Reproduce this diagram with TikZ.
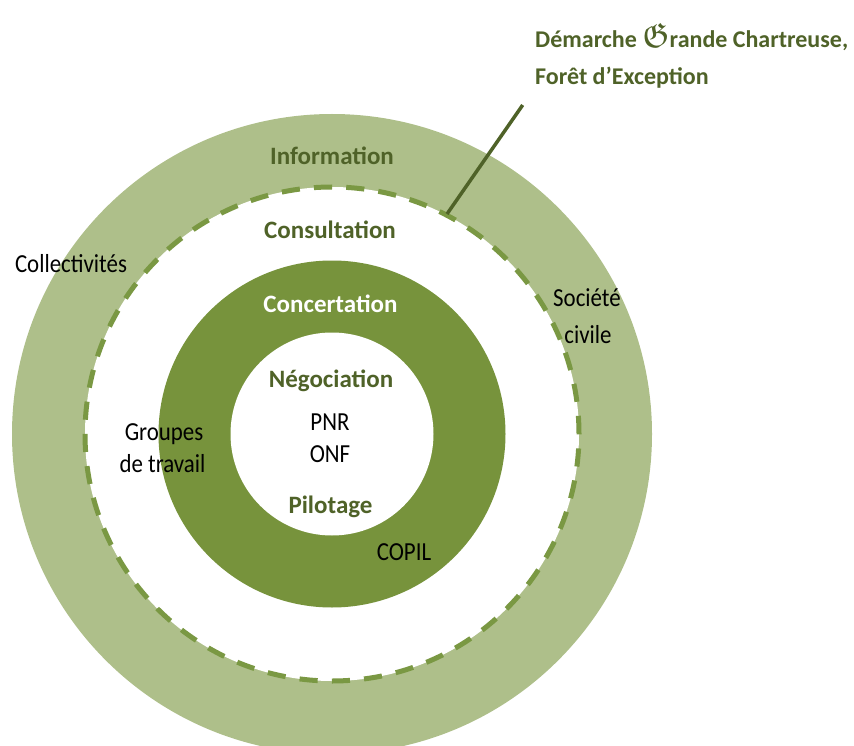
\documentclass[tikz,border=0pt]{standalone}
\usepackage{fontspec}
\usepackage{amssymb}
\usepackage{graphicx}
\setmainfont{Carlito}
\newfontfamily\thinfont[FakeStretch=0.88]{Carlito}
\definecolor{lightring}{HTML}{AEBF8A}
\definecolor{darkring}{HTML}{77933C}
\definecolor{dashgreen}{HTML}{7A9843}
\definecolor{txtgreen}{HTML}{4F6228}
\begin{document}
\begin{tikzpicture}[x=1pt,y=-1pt,
  ring/.style={circle, inner sep=0pt, outer sep=0pt, draw=none},
  lab/.style={anchor=base, inner sep=0pt, font=\fontsize{25}{30}\selectfont\bfseries, text=txtgreen},
  who/.style={anchor=base, inner sep=0pt, font=\thinfont\fontsize{26}{30}\selectfont, text=black},
  titlebox/.style={anchor=base west, inner sep=0pt, font=\fontsize{24}{30}\selectfont\bfseries, text=txtgreen},
]
\useasboundingbox (0,0) rectangle (854,746);
\clip (0,0) rectangle (854,746);
\coordinate (c) at (332,434);
% rings
\node[ring, fill=lightring, minimum size=640pt] (outer) at (c) {};
\node[ring, fill=white, minimum size=494pt] (mid) at (c) {};
\draw[dashgreen, line width=5pt, dash pattern=on 18.2pt off 14.13pt] (c) circle[radius=247pt];
\node[ring, fill=darkring, minimum size=347pt] (dark) at (c) {};
\node[ring, fill=white, minimum size=203pt] (core) at (c) {};
% leader
\coordinate (foot) at (447,214);
\coordinate (head) at (522.7,105);
\draw[txtgreen, line width=3.5pt] (foot) -- (head);
% title
\node[titlebox] (t1) at (535,48) {Démarche \scalebox{1.45}{$\mathfrak{G}$}rande Chartreuse,};
\node[titlebox] (t2) at (535,85) {Forêt d’Exception};
% level labels
\node[lab] (info) at (332,165) {Information};
\node[lab] (consult) at (330,238) {Consultation};
\node[lab, text=white] (concert) at (330.5,312) {Concertation};
\node[lab] (nego) at (331,387) {Négociation};
\node[lab] (pilot) at (330.5,513) {Pilotage};
% actors
\node[who] (pnr) at (330,430) {PNR};
\node[who] (onf) at (330,462) {ONF};
\node[who] (copil) at (404,560) {COPIL};
\node[who] (grp1) at (164,440) {Groupes};
\node[who] (grp2) at (162.5,472) {de travail};
\node[who] (coll) at (71,272) {Collectivités};
\node[who] (soc1) at (587,306) {Société};
\node[who] (soc2) at (588,343) {civile};
\end{tikzpicture}
\end{document}
